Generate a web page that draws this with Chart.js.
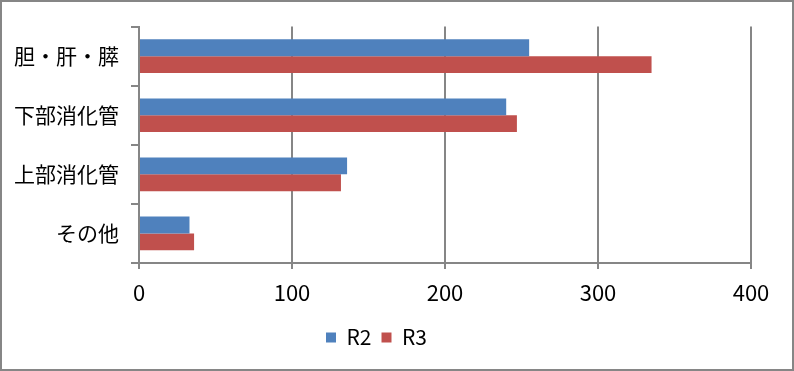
<!DOCTYPE html>
<html>
<head>
<meta charset="utf-8">
<script src="https://cdn.jsdelivr.net/npm/chart.js@4"></script>
<style>
  body { margin: 0; background: #fff; }
  #wrap { width: 794px; height: 371px; box-sizing: border-box; border: 2px solid #868686; }
</style>
</head>
<body>
<div id="wrap"><canvas id="chart" width="790" height="367"></canvas></div>
<script>
// Categories (top to bottom)
const categories = ['胆・肝・膵', '下部消化管', '上部消化管', 'その他'];

// Series values
const r2Values = [255, 240, 136, 33];
const r3Values = [335, 247, 132, 36];

// Axis ticks
const xTicks = [0, 100, 200, 300, 400];

const gridColor = '#868686';
const fontFamily = '"Noto Sans CJK JP", "Noto Sans", sans-serif';

const ctx = document.getElementById('chart').getContext('2d');
new Chart(ctx, {
  type: 'bar',
  data: {
    labels: categories,
    datasets: [
      {
        label: 'R2',
        data: r2Values,
        backgroundColor: '#4F81BD',
        borderWidth: 0,
        categoryPercentage: 0.57,
        barPercentage: 1.0
      },
      {
        label: 'R3',
        data: r3Values,
        backgroundColor: '#C0504D',
        borderWidth: 0,
        categoryPercentage: 0.57,
        barPercentage: 1.0
      }
    ]
  },
  options: {
    indexAxis: 'y',
    responsive: false,
    animation: false,
    layout: {
      padding: { top: 22, right: 41, left: 0, bottom: 11 }
    },
    scales: {
      x: {
        min: xTicks[0],
        max: xTicks[xTicks.length - 1],
        afterBuildTicks: axis => { axis.ticks = xTicks.map(v => ({ value: v })); },
        grid: { color: gridColor, lineWidth: 2, tickLength: 6 },
        border: { color: gridColor, width: 2 },
        ticks: {
          color: '#000',
          font: { family: fontFamily, size: 22 },
          padding: 10
        },
        afterFit: s => { s.height = 54; }
      },
      y: {
        grid: { drawOnChartArea: false, color: gridColor, lineWidth: 2, tickLength: 8, offset: true },
        border: { color: gridColor, width: 2 },
        ticks: {
          color: '#000',
          font: { family: fontFamily, size: 21 },
          padding: 12
        },
        afterFit: s => { s.width = 137; }
      }
    },
    plugins: {
      legend: {
        position: 'bottom',
        labels: {
          boxWidth: 10,
          boxHeight: 10,
          color: '#000',
          font: { family: fontFamily, size: 21 },
          padding: 10
        }
      },
      title: { display: false },
      tooltip: { enabled: false }
    }
  }
});
</script>
</body>
</html>
